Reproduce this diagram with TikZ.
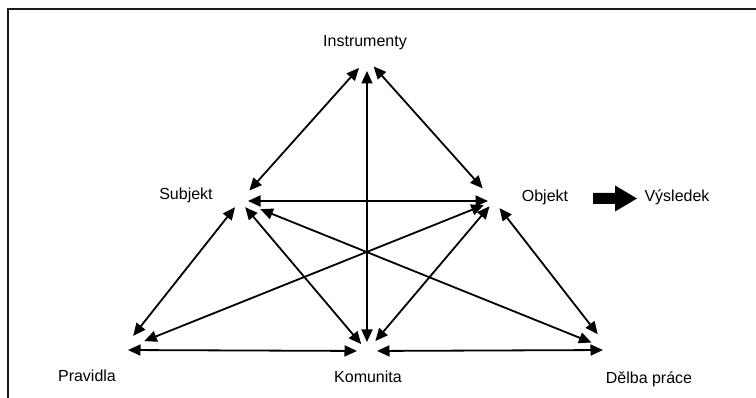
\documentclass[tikz,border=0pt]{standalone}
\usepackage{fontspec}
\setmainfont{Liberation Sans}
\usetikzlibrary{arrows.meta}
\begin{document}
\begin{tikzpicture}[x=1pt,y=-1pt,
  lbl/.style={font=\fontsize{16}{19}\selectfont, anchor=base, inner sep=0pt},
  link/.style={{Triangle[length=12.5pt,width=11pt]}-{Triangle[length=12.5pt,width=11pt]}, line width=1.8pt},
  frame/.style={line width=1.5pt, draw=black!90}
]
\useasboundingbox (0,0) rectangle (756,398);
\draw[frame] (8,398) -- (8,9) -- (756,9);

% labels
\node[lbl] (tI) at (365,47) {Instrumenty};
\node[lbl] (tS) at (186,200) {Subjekt};
\node[lbl] (tO) at (545,202) {Objekt};
\node[lbl] (tV) at (677,202) {Výsledek};
\node[lbl] (tP) at (87,382) {Pravidla};
\node[lbl] (tK) at (368,383) {Komunita};
\node[lbl] (tD) at (649,384) {Dělba práce};

% convergence points
\coordinate (I) at (367,59);
\coordinate (S) at (240,201);
\coordinate (O) at (494,201);
\coordinate (P) at (122,350);
\coordinate (K) at (367,351);
\coordinate (D) at (610,350);

% connectors
\draw[link, shorten <=12pt, shorten >=14pt] (I) -- (S);
\draw[link, shorten <=10pt, shorten >=17pt] (I) -- (O);
\draw[link, shorten <=12pt, shorten >=9pt] (I) -- (K);
\draw[link, shorten <=8pt, shorten >=6pt] (S) -- (O);
\draw[link, shorten <=8pt, shorten >=18pt] (S) -- (P);
\draw[link, shorten <=8pt, shorten >=9pt] (S) -- (K);
\draw[link, shorten <=22pt, shorten >=20pt] (S) -- (D);
\draw[link, shorten <=11pt, shorten >=24pt] (O) -- (P);
\draw[link, shorten <=7pt, shorten >=13pt] (O) -- (K);
\draw[link, shorten <=9pt, shorten >=20pt] (O) -- (D);
\draw[link, shorten <=6pt, shorten >=10pt] (P) -- (K);
\draw[link, shorten <=10pt, shorten >=7pt] (K) -- (D);

% result arrow
\fill (593,193) -- (615,193) -- (615,185.5) -- (637,198.5) -- (615,211.5) -- (615,204) -- (593,204) -- cycle;
\end{tikzpicture}
\end{document}
